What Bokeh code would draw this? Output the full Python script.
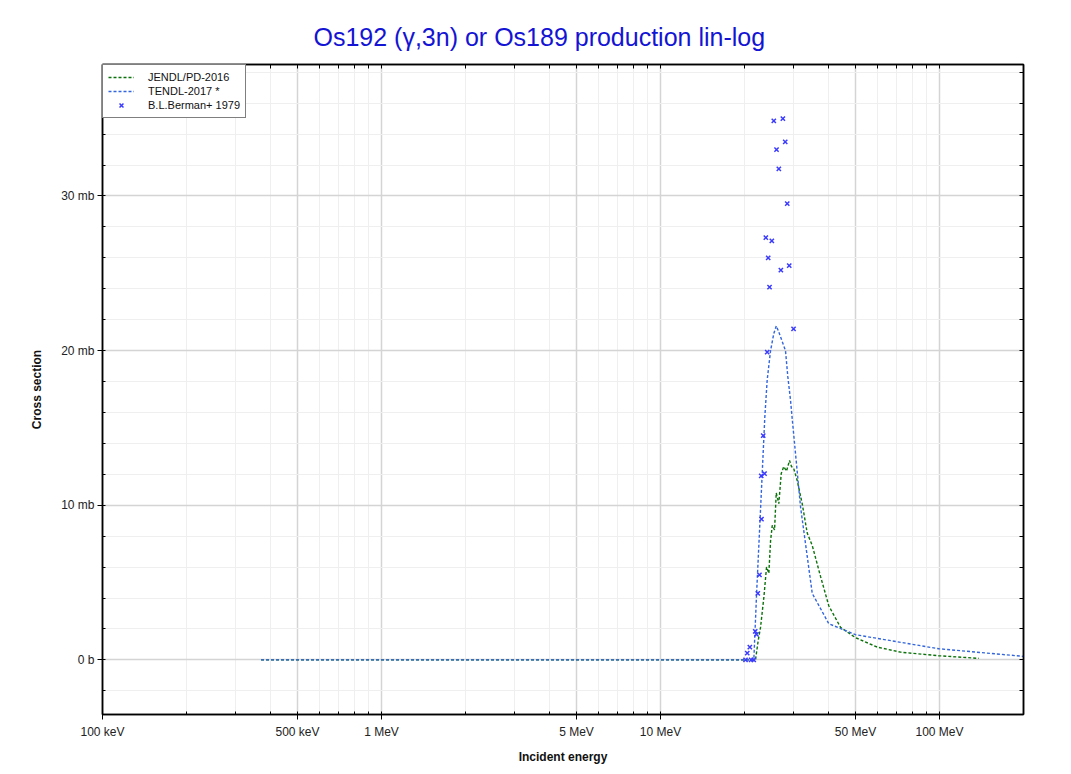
from bokeh.plotting import figure
from bokeh.models import (Range1d, FixedTicker, LogAxis, LinearAxis,
                          CustomJSTickFormatter)
from bokeh.embed import file_html
from bokeh.resources import INLINE

# ---------------- data (energies in MeV, cross sections in mb) ----------------
jendl_e = [0.37, 21.9, 22.4, 22.83, 23.47, 23.99, 24.45, 24.8, 25.15, 25.63,
           25.99, 26.55, 27.08, 27.66, 28.29, 29.0, 29.48, 30.0, 30.9, 32.2,
           33.56, 34.98, 37.46, 40.1, 44.2, 50.0, 59.8, 72.5, 99.4, 138.3]
jendl_xs = [0.0, 0.0, 1.26, 2.1, 4.06, 6.0, 5.6, 7.7, 8.7, 8.4,
            10.8, 10.1, 12.05, 12.5, 12.2, 12.9, 12.5, 12.4, 11.6, 10.1,
            8.2, 7.4, 5.4, 3.5, 2.1, 1.44, 0.83, 0.5, 0.27, 0.1]

tendl_e = [0.37, 21.6, 22.1, 22.8, 23.65, 24.12, 24.8, 25.47, 26.0, 26.55,
           28.05, 28.6, 29.24, 29.65, 31.76, 34.98, 40.1, 50.0, 99.4, 200.0]
tendl_xs = [0.0, 0.0, 4.3, 9.5, 15.7, 18.1, 20.0, 21.1, 21.6, 21.2,
            20.0, 18.3, 16.8, 15.6, 9.9, 4.3, 2.34, 1.63, 0.72, 0.23]

berman_e = [20.17, 20.46, 20.9, 21.12, 21.58, 21.85, 22.08, 22.32, 22.63,
            23.01, 22.96, 23.6, 23.34, 24.12, 23.85, 24.32, 24.59, 25.06,
            25.47, 26.05, 26.55, 27.0, 27.45, 27.99, 28.46, 28.93, 29.98]
berman_xs = [0.0, 0.44, 0.83, 0.0, 0.0, 1.84, 1.65, 4.3, 5.5,
             9.1, 11.9, 12.05, 14.5, 19.9, 27.3, 26.0, 24.1, 27.1,
             34.85, 33.0, 31.75, 25.2, 35.0, 33.5, 29.5, 25.5, 21.4]

x_major = [0.1, 0.5, 1, 5, 10, 50, 100]
x_minor = [0.2, 0.3, 0.4, 0.6, 0.7, 0.8, 0.9, 2, 3, 4, 6, 7, 8, 9,
           20, 30, 40, 60, 70, 80, 90, 200]
y_major = [0, 10, 20, 30]
y_minor = [-2, 2, 4, 6, 8, 12, 14, 16, 18, 22, 24, 26, 28, 32, 34, 36, 38]

TITLE = "Os192 (\u03b3,3n) or Os189 production lin-log"
FONT = "Liberation Sans"

p = figure(width=1060, height=770, x_axis_type="log",
           x_range=Range1d(0.1, 200), y_range=Range1d(-3.53, 38.5),
           output_backend="svg", toolbar_location=None,
           min_border_left=102, min_border_right=37,
           min_border_top=64, min_border_bottom=56)

p.background_fill_color = "white"
p.border_fill_color = "white"
p.outline_line_color = "black"
p.outline_line_width = 1.5

# title
p.title.text = TITLE
p.title.text_font = FONT
p.title.text_font_size = "25px"
p.title.text_font_style = "normal"
p.title.text_color = "#1414d4"
p.title.align = "left"
p.title.offset = 211
p.title.standoff = 27

xticker = FixedTicker(ticks=x_major, minor_ticks=x_minor)
yticker = FixedTicker(ticks=y_major, minor_ticks=y_minor)

xfmt = CustomJSTickFormatter(code="""
if (tick >= 1) { return (Math.round(tick*1000)/1000) + ' MeV'; }
return Math.round(tick*1000) + ' keV';
""")
yfmt = CustomJSTickFormatter(code="""
if (Math.abs(tick) < 1e-9) { return '0 b'; }
return Math.round(tick) + ' mb';
""")
blank = CustomJSTickFormatter(code="return '';")

xa = p.xaxis[0]
ya = p.yaxis[0]
xa.ticker = xticker
ya.ticker = yticker
xa.formatter = xfmt
ya.formatter = yfmt
p.xgrid.ticker = xticker
p.ygrid.ticker = yticker

for ax in (xa, ya):
    ax.axis_line_color = "black"
    ax.axis_line_width = 1.5
    ax.major_tick_line_color = "black"
    ax.minor_tick_line_color = "black"
    ax.major_tick_in = 3
    ax.major_tick_out = 5
    ax.minor_tick_in = 3
    ax.minor_tick_out = 0
    ax.major_label_text_font = FONT
    ax.major_label_text_font_size = "12px"
    ax.major_label_text_color = "#222222"
    ax.major_label_standoff = 3
    ax.axis_label_text_font = FONT
    ax.axis_label_text_font_size = "12px"
    ax.axis_label_text_font_style = "bold"
    ax.axis_label_text_color = "#111111"

xa.major_label_standoff = 5
xa.axis_label = "Incident energy"
xa.axis_label_standoff = 8
ya.axis_label = "Cross section"
ya.axis_label_standoff = 14

# mirrored top / right axes: ticks only
top = LogAxis(ticker=FixedTicker(ticks=x_major, minor_ticks=x_minor), formatter=blank)
right = LinearAxis(ticker=FixedTicker(ticks=y_major, minor_ticks=y_minor), formatter=blank)
for ax in (top, right):
    ax.axis_line_color = "black"
    ax.axis_line_width = 1.5
    ax.major_tick_in = 4
    ax.major_tick_out = 0
    ax.minor_tick_in = 4
    ax.minor_tick_out = 0
    ax.major_label_text_font_size = "0px"
    ax.major_label_standoff = 0
p.add_layout(top, "above")
p.add_layout(right, "right")

# grids
for g in (p.xgrid, p.ygrid):
    g.grid_line_color = "#d4d4d4"
    g.grid_line_width = 1.5
    g.minor_grid_line_color = "#efefef"
    g.minor_grid_line_width = 1

# data
p.line(jendl_e, jendl_xs, line_color="#0b720b", line_width=1.4,
       line_dash="3 2", legend_label="JENDL/PD-2016")
p.line(tendl_e, tendl_xs, line_color="#3366dd", line_width=1.4,
       line_dash="3 2", legend_label="TENDL-2017 *")
p.scatter(berman_e, berman_xs, marker="x", size=6, line_color="#3b3bff",
          line_width=1.5, legend_label="B.L.Berman+ 1979")

lg = p.legend[0]
lg.location = "top_left"
lg.margin = 0
lg.padding = 5
lg.spacing = 0
lg.label_height = 14
lg.glyph_height = 14
lg.glyph_width = 26
lg.label_standoff = 14
lg.label_text_font = FONT
lg.label_text_font_size = "11px"
lg.label_text_color = "#111111"
lg.border_line_color = "black"
lg.border_line_width = 1
lg.background_fill_color = "white"
lg.background_fill_alpha = 1.0

open("out.html", "w").write(file_html(p, INLINE))
